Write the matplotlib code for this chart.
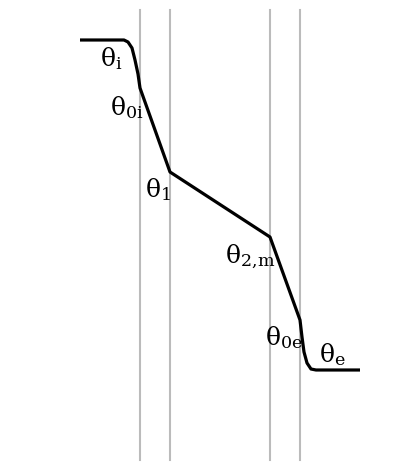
import numpy as np
import matplotlib.pyplot as plt

# temperature profile through the wall (x, y in picture units, y downwards)
profile_x = [80, 124, 128, 132, 135, 138, 140, 170, 270, 300, 302, 304, 307, 311, 316, 360]
profile_y = [40, 40, 42, 48, 60, 74, 88, 172, 237, 320, 337, 352, 363, 369, 370, 370]

# layer boundaries
bounds_x = [140, 170, 270, 300]
bounds_top = 10
bounds_bottom = 460

labels = [r'$\mathrm{θ}_{\mathrm{i}}$', r'$\mathrm{θ}_{\mathrm{0i}}$', r'$\mathrm{θ}_{\mathrm{1}}$',
          r'$\mathrm{θ}_{\mathrm{2,\!m}}$', r'$\mathrm{θ}_{\mathrm{0e}}$', r'$\mathrm{θ}_{\mathrm{e}}$']
label_x = [100, 110, 145, 225, 265, 319]
label_y = [66, 115, 197, 263, 345, 362]

plt.rcParams['mathtext.fontset'] = 'dejavuserif'

fig = plt.figure(figsize=(4, 4.7), dpi=100)
ax = fig.add_axes([0, 0, 1, 1])
ax.set_xlim(0, 400)
ax.set_ylim(470, 0)
ax.axis('off')

for bx in bounds_x:
    ax.plot([bx, bx], [bounds_top, bounds_bottom], color='#bbbbbb', linewidth=1.5)

ax.plot(profile_x, profile_y, color='black', linewidth=2.3, solid_capstyle='butt',
        solid_joinstyle='round')

for lab, lx, ly in zip(labels, label_x, label_y):
    ax.text(lx, ly, lab, fontsize=18, ha='left', va='baseline')

fig.savefig('out.png', dpi=100)
